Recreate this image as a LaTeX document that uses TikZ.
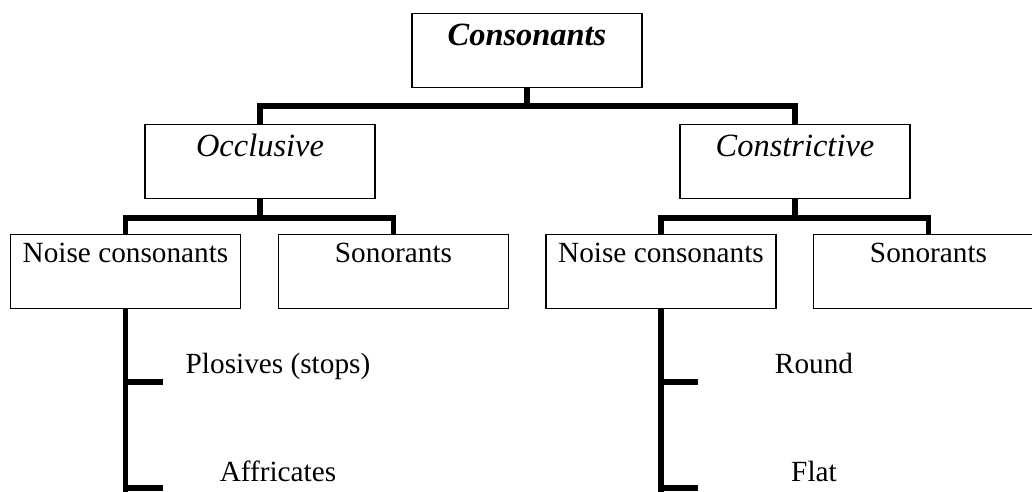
\documentclass[tikz,border=0pt]{standalone}
\usepackage{fontspec}
\setmainfont{Liberation Serif}
\begin{document}
\begin{tikzpicture}[x=0.41pt,y=-0.41pt,
    box/.style={draw,line width=0.6pt,anchor=north,inner xsep=0pt,
      inner ysep=0pt,minimum width=94.3pt},
    upbox/.style={box,text height=13.1pt,text depth=17.2pt,
      font=\fontsize{13.3}{16}\selectfont\itshape},
    lowbox/.style={box,text height=11.5pt,text depth=18.8pt,
      font=\fontsize{12}{14}\selectfont},
    kind/.style={anchor=base,inner sep=0pt,font=\fontsize{12}{14}\selectfont},
    branch/.style={line width=2.4pt}]
    \useasboundingbox (0,0) rectangle (1032,491);

    % top of the tree
    \node[upbox,font=\fontsize{13.3}{16}\selectfont\bfseries\itshape] (cons)
    at (527,13) {Consonants};
    \node[upbox] (occl) at (260,124) {Occlusive};
    \node[upbox] (constr) at (795,124) {Constrictive};
    \draw[branch] (cons.south) -- ++(0,18) -| (occl.north);
    \draw[branch] (cons.south) -- ++(0,18) -| (constr.north);

    % occlusive (left)
    \node[lowbox] (noiseL) at (125.5,234) {Noise consonants};
    \node[lowbox] (sonL) at (393.5,234) {Sonorants};
    \draw[branch] (occl.south) -- ++(0,19) -| (noiseL.north);
    \draw[branch] (occl.south) -- ++(0,19) -| (sonL.north);

    % constrictive (right)
    \node[lowbox] (noiseR) at (661,234) {Noise consonants};
    \node[lowbox] (sonR) at (928.5,234) {Sonorants};
    \draw[branch] (constr.south) -- ++(0,19) -| (noiseR.north);
    \draw[branch] (constr.south) -- ++(0,19) -| (sonR.north);

    % noise consonants, kinds
    \node[kind] (plos) at (278,373) {Plosives (stops)};
    \node[kind] (affr) at (278,481) {Affricates};
    \node[kind] (round) at (814,373) {Round};
    \node[kind] (flat) at (814,481) {Flat};
    \coordinate (endL) at (125.5,495); \coordinate (endR) at (661,495);
    \draw[branch] (noiseL.south) -- (endL);
    \draw[branch] (noiseR.south) -- (endR);
    \draw[branch] (noiseL.south |- 0,382) -- ++(37,0);
    \draw[branch] (noiseL.south |- 0,488) -- ++(37,0);
    \draw[branch] (noiseR.south |- 0,382) -- ++(37,0);
    \draw[branch] (noiseR.south |- 0,488) -- ++(37,0);
\end{tikzpicture}
\end{document}
